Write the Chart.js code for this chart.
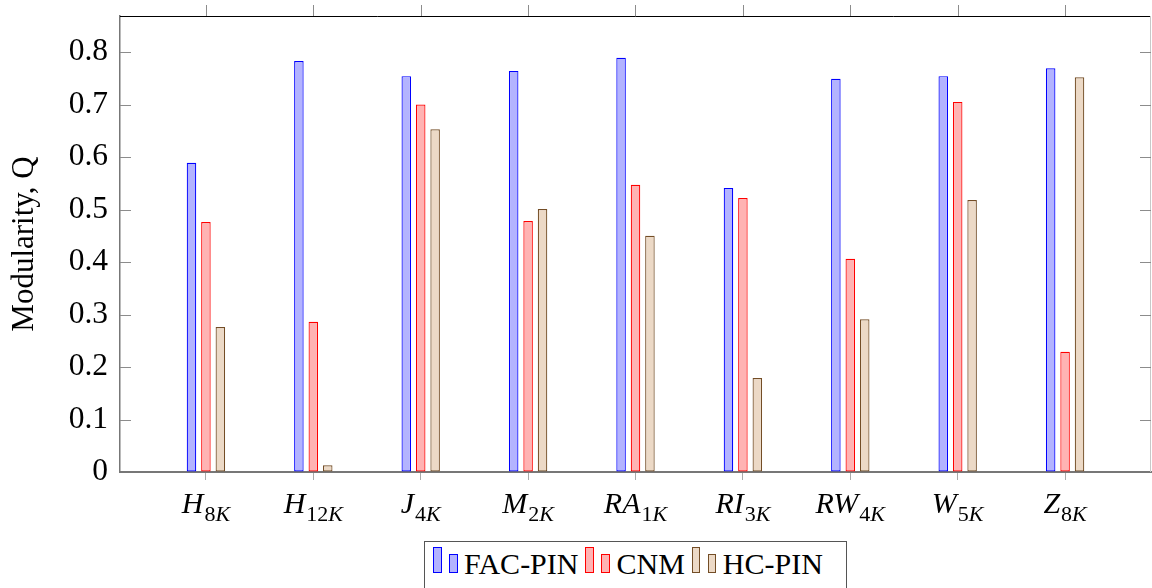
<!DOCTYPE html>
<html>
<head>
<meta charset="utf-8">
<script src="https://cdn.jsdelivr.net/npm/chart.js@4/dist/chart.umd.min.js"></script>
<style>
  html, body { margin: 0; padding: 0; background: #fff; overflow: hidden; }
  #wrap { position: relative; width: 1152px; height: 588px; }
  #legend {
    position: absolute; left: 424px; top: 541px; width: 423px; height: 70px;
    border: 1.5px solid #555; box-sizing: border-box; background: #fff;
    font: 30px "Liberation Serif", "Times New Roman", serif; color: #000;
  }
  #legend-row { position: absolute; left: 8px; top: 6px; height: 30.5px; display: flex; align-items: flex-end; }
  .sw { width: 8.5px; box-sizing: border-box; border: 1.3px solid; margin-bottom: 6px; }
  .sw.tall { height: 26px; margin-right: 7.5px; }
  .sw.short { height: 19px; margin-right: 6.5px; }
  .lt { line-height: 30px; white-space: nowrap; margin-right: 7px; }
</style>
</head>
<body>
<div id="wrap">
  <canvas id="c" width="1152" height="588"></canvas>
  <div id="legend"><div id="legend-row"></div></div>
</div>
<script>
// category labels: main part (italic) and subscript
const catMain = ['H', 'H', 'J', 'M', 'RA', 'RI', 'RW', 'W', 'Z'];
const catSub = ['8K', '12K', '4K', '2K', '1K', '3K', '4K', '5K', '8K'];

const seriesNames = ['FAC-PIN', 'CNM', 'HC-PIN'];
const facPin = [0.589, 0.783, 0.754, 0.764, 0.789, 0.541, 0.749, 0.754, 0.769];
const cnm    = [0.476, 0.286, 0.700, 0.478, 0.547, 0.522, 0.406, 0.705, 0.229];
const hcPin  = [0.276, 0.013, 0.653, 0.501, 0.450, 0.179, 0.291, 0.518, 0.752];

const yTicks = [0, 0.1, 0.2, 0.3, 0.4, 0.5, 0.6, 0.7, 0.8];

const fills = ['#b3b3ff', '#ffb3b3', '#ecd9c6'];
const borders = ['#0000ff', '#ff0000', '#734d26'];
const SERIF = '"Liberation Serif", "Times New Roman", serif';

const toPoints = vals => vals.map((v, i) => ({ x: i, y: v }));

// legend (two little bars per entry, like pgfplots ybar legend)
const row = document.getElementById('legend-row');
row.innerHTML = seriesNames.map((n, i) =>
  `<div class="sw tall" style="background:${fills[i]};border-color:${borders[i]}"></div>` +
  `<div class="sw short" style="background:${fills[i]};border-color:${borders[i]}"></div>` +
  `<span class="lt">${n}</span>`
).join('');

// frame, inward y ticks, top x ticks and subscripted category labels
const framePlugin = {
  id: 'frame',
  afterDraw(chart) {
    const { ctx, chartArea: a, scales: { x, y } } = chart;
    ctx.save();
    ctx.lineWidth = 1;
    ctx.strokeStyle = '#000';
    ctx.beginPath(); ctx.moveTo(a.left, a.top + 0.5); ctx.lineTo(a.right, a.top + 0.5); ctx.stroke();
    ctx.strokeStyle = '#c8c8c8';
    ctx.beginPath(); ctx.moveTo(a.right - 0.5, a.top); ctx.lineTo(a.right - 0.5, a.bottom); ctx.stroke();

    ctx.strokeStyle = '#8c8c8c';
    yTicks.forEach(t => {
      if (t === 0) return;
      const py = Math.round(y.getPixelForValue(t)) + 0.5;
      ctx.beginPath(); ctx.moveTo(a.left, py); ctx.lineTo(a.left + 11, py); ctx.stroke();
      ctx.beginPath(); ctx.moveTo(a.right - 11, py); ctx.lineTo(a.right, py); ctx.stroke();
    });
    catMain.forEach((_, i) => {
      const px = Math.round(x.getPixelForValue(i)) + 0.5;
      ctx.beginPath(); ctx.moveTo(px, a.top - 11); ctx.lineTo(px, a.top); ctx.stroke();
    });

    // labels
    ctx.fillStyle = '#000';
    ctx.textBaseline = 'alphabetic';
    ctx.textAlign = 'left';
    const mainFont = `italic 30px ${SERIF}`;
    const digFont = `22px ${SERIF}`;
    const kFont = `italic 22px ${SERIF}`;
    catMain.forEach((m, i) => {
      const sub = catSub[i];
      const digits = sub.replace('K', '');
      ctx.font = mainFont; const wm = ctx.measureText(m).width;
      ctx.font = digFont; const wd = ctx.measureText(digits).width;
      ctx.font = kFont; const wk = ctx.measureText('K').width;
      const total = wm + 1 + wd + wk;
      let px = x.getPixelForValue(i) - total / 2;
      const base = a.bottom + 41;
      ctx.font = mainFont; ctx.fillText(m, px, base); px += wm + 1;
      ctx.font = digFont; ctx.fillText(digits, px, base + 8); px += wd;
      ctx.font = kFont; ctx.fillText('K', px, base + 8);
    });
    ctx.restore();
  }
};

const mkSet = (label, vals, i) => ({
  label,
  data: toPoints(vals),
  backgroundColor: fills[i],
  borderColor: borders[i],
  borderWidth: 1.2,
  borderSkipped: false,
  categoryPercentage: 0.403,
  barPercentage: 0.66,
});

new Chart(document.getElementById('c'), {
  type: 'bar',
  data: {
    datasets: [
      mkSet(seriesNames[0], facPin, 0),
      mkSet(seriesNames[1], cnm, 1),
      mkSet(seriesNames[2], hcPin, 2),
    ],
  },
  options: {
    responsive: false,
    devicePixelRatio: 1,
    animation: false,
    layout: { padding: { top: 16, right: 1, left: 0, bottom: 0 } },
    plugins: { legend: { display: false }, tooltip: { enabled: false } },
    scales: {
      x: {
        type: 'linear',
        min: -0.8,
        max: 8.8,
        offset: false,
        afterBuildTicks: s => { s.ticks = catMain.map((_, i) => ({ value: i })); },
        afterFit: s => { s.height = 116; s.paddingLeft = 0; s.paddingRight = 0; },
        ticks: { callback: () => '', font: { size: 10 } },
        grid: { offset: false, drawOnChartArea: false, drawTicks: true, tickLength: 8, tickColor: '#aaa' },
        border: { color: '#777', width: 2 },
      },
      y: {
        min: 0,
        max: 0.8686,
        afterBuildTicks: s => { s.ticks = yTicks.map(v => ({ value: v })); },
        afterFit: s => { s.width = 120; s.paddingTop = 0; s.paddingBottom = 0; },
        ticks: {
          color: '#000',
          padding: 12,
          font: { family: SERIF, size: 31.5 },
          callback: v => String(Math.round(v * 10) / 10),
        },
        grid: { drawOnChartArea: false, drawTicks: false },
        border: { color: '#777', width: 1.5 },
        title: {
          display: true,
          text: 'Modularity, Q',
          color: '#000',
          font: { family: SERIF, size: 31 },
          padding: { top: 6, bottom: 0 },
        },
      },
    },
  },
  plugins: [framePlugin],
});
</script>
</body>
</html>
